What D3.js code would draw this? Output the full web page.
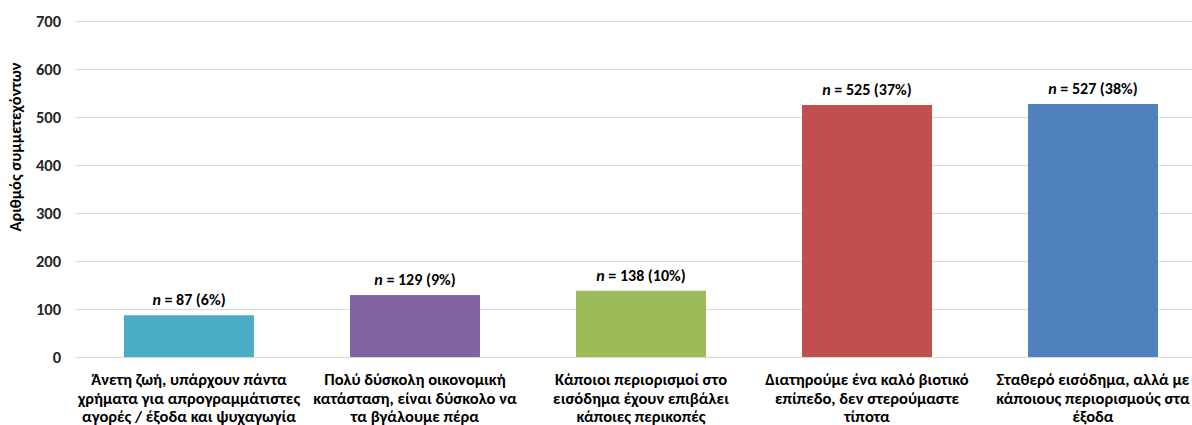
<!DOCTYPE html>
<html><head><meta charset="utf-8">
<script src="https://cdn.jsdelivr.net/npm/d3@7"></script>
<style>body{margin:0;background:#fff;} svg{display:block;font-family:Carlito,"Liberation Sans Narrow","Liberation Sans",sans-serif;font-weight:bold;}</style>
</head><body>
<svg id="c" width="1192" height="425"></svg>
<script>
const categories = [
  ["Άνετη ζωή, υπάρχουν πάντα","χρήματα για απρογραμμάτιστες","αγορές / έξοδα και ψυχαγωγία"],
  ["Πολύ δύσκολη οικονομική","κατάσταση, είναι δύσκολο να","τα βγάλουμε πέρα"],
  ["Κάποιοι περιορισμοί στο","εισόδημα έχουν επιβάλει","κάποιες περικοπές"],
  ["Διατηρούμε ένα καλό βιοτικό","επίπεδο, δεν στερούμαστε","τίποτα"],
  ["Σταθερό εισόδημα, αλλά με","κάποιους περιορισμούς στα","έξοδα"]
];
const values = [87, 129, 138, 525, 527];
const percents = ["6%", "9%", "10%", "37%", "38%"];
const colors = ["#4BACC6", "#8064A2", "#9BBB59", "#C0504D", "#4F81BD"];
const yTicks = [0,100,200,300,400,500,600,700];
const yTitle = "Αριθμός συμμετεχόντων";

const svg = d3.select("#c");
const mLeft = 76, mRight = 1206, mTop = 21, mBottom = 357;
const x = d3.scaleBand().domain(d3.range(values.length)).range([mLeft, mRight]).paddingInner(0.425).paddingOuter(0.2125);
const y = d3.scaleLinear().domain([0,700]).range([mBottom, mTop]);

// gridlines
const yAxis = d3.axisLeft(y).tickValues(yTicks).tickSize(-(1192-mLeft)).tickPadding(15);
const ga = svg.append("g").attr("transform",`translate(${mLeft},0)`).call(yAxis);
ga.select(".domain").remove();
ga.attr("font-family",null).attr("font-size",null);
ga.selectAll(".tick line").attr("stroke","#d9d9d9").attr("stroke-width",1);
ga.selectAll(".tick text").attr("fill","#262626").style("font-size","16.5px");

svg.append("g").selectAll("rect").data(values).join("rect")
  .attr("x",(d,i)=>x(i)).attr("width",x.bandwidth())
  .attr("y",d=>y(d)).attr("height",d=>mBottom-y(d))
  .attr("fill",(d,i)=>colors[i]);

// data labels
const lbl = svg.append("g").selectAll("text").data(values).join("text")
  .attr("x",(d,i)=>x(i)+x.bandwidth()/2).attr("y",d=>y(d)-10)
  .attr("text-anchor","middle").attr("fill","#000").style("font-size","16px");
lbl.append("tspan").style("font-style","italic").text("n");
lbl.append("tspan").text((d,i)=>` = ${d} (${percents[i]})`);

// category labels
const cl = svg.append("g").selectAll("text").data(categories).join("text")
  .attr("text-anchor","middle").attr("fill","#000").style("font-size","16.5px");
cl.each(function(lines,i){
  const t = d3.select(this);
  lines.forEach((s,j)=>t.append("tspan").attr("x",x(i)+x.bandwidth()/2).attr("y",385+j*18.5).text(s));
});

svg.append("text").attr("transform","translate(21,147) rotate(-90)")
  .attr("text-anchor","middle").attr("fill","#000").style("font-size","16.5px").text(yTitle);
</script>
</body></html>
